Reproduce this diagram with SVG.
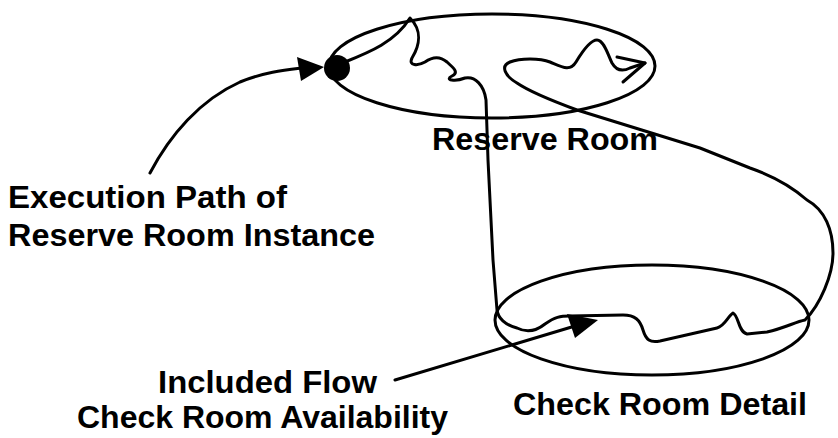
<svg xmlns="http://www.w3.org/2000/svg" width="838" height="438" viewBox="0 0 838 438">
<style>
.ln{fill:none;stroke:#000;stroke-width:3;stroke-linejoin:round;stroke-linecap:round}
.lbl{font-family:"Liberation Sans",Arial,sans-serif;font-weight:bold;font-size:31px;fill:#000}
</style>
<rect width="838" height="438" fill="#fff"/>
<g id="reserve-room">
<ellipse class="ln" cx="492" cy="66" rx="163" ry="52"/>
<text class="lbl" x="432" y="150" textLength="226" lengthAdjust="spacingAndGlyphs">Reserve Room</text>
</g>
<g id="check-room-detail">
<ellipse class="ln" cx="652" cy="320" rx="157" ry="55"/>
<text class="lbl" x="513" y="415" textLength="294" lengthAdjust="spacingAndGlyphs">Check Room Detail</text>
</g>
<g id="start-point">
<circle cx="337" cy="68" r="13" fill="#000"/>
</g>
<g id="execution-label">
<text class="lbl" x="8" y="208" textLength="279" lengthAdjust="spacingAndGlyphs">Execution Path of</text>
<text class="lbl" x="8" y="246" textLength="367" lengthAdjust="spacingAndGlyphs">Reserve Room Instance</text>
</g>
<g id="included-label">
<text class="lbl" x="158" y="393" textLength="219" lengthAdjust="spacingAndGlyphs">Included Flow</text>
<text class="lbl" x="77" y="428" textLength="371" lengthAdjust="spacingAndGlyphs">Check Room Availability</text>
</g>
<g id="connectors">
<path class="ln" d="M345,62 C370,52 395,42 410,18 C422,30 420,45 412,58 C408,66 418,66 425,62 C432,57 440,56 447,62 C452,67 460,72 452,76 C444,80 455,82 465,78 C475,76 484,85 486,100 L488,160 L493,260 L497,310 C498,318 505,325 517,328 C525,332 535,332 545,324 C555,317 560,316 570,316 L623,315 C635,315 640,320 643,330 C646,340 650,343 660,341 L717,328 C725,326 728,316 733,313 C739,316 738,332 747,334 L767,332 C785,328 795,322 805,320 C820,305 833,275 833,253 C833,230 825,210 807,200 C790,185 770,175 750,168 L700,148 L577,110 C550,100 530,92 517,83 C505,76 500,66 510,62 C520,58 540,58 550,62 C562,67 570,72 576,62 C582,52 590,40 597,40 C604,40 608,55 612,63 C616,70 622,72 630,68 L645,63"/>
<path class="ln" d="M617,57 L645,63 L623,82"/>
<path class="ln" d="M150,173 C170,135 200,100 240,82 C265,72 285,70 302,68"/>
<polygon points="297,57 324,67 301,81" fill="#000"/>
<path class="ln" d="M395,380 L575,326"/>
<polygon points="567,314 598,320 575,338" fill="#000"/>
</g>
</svg>
